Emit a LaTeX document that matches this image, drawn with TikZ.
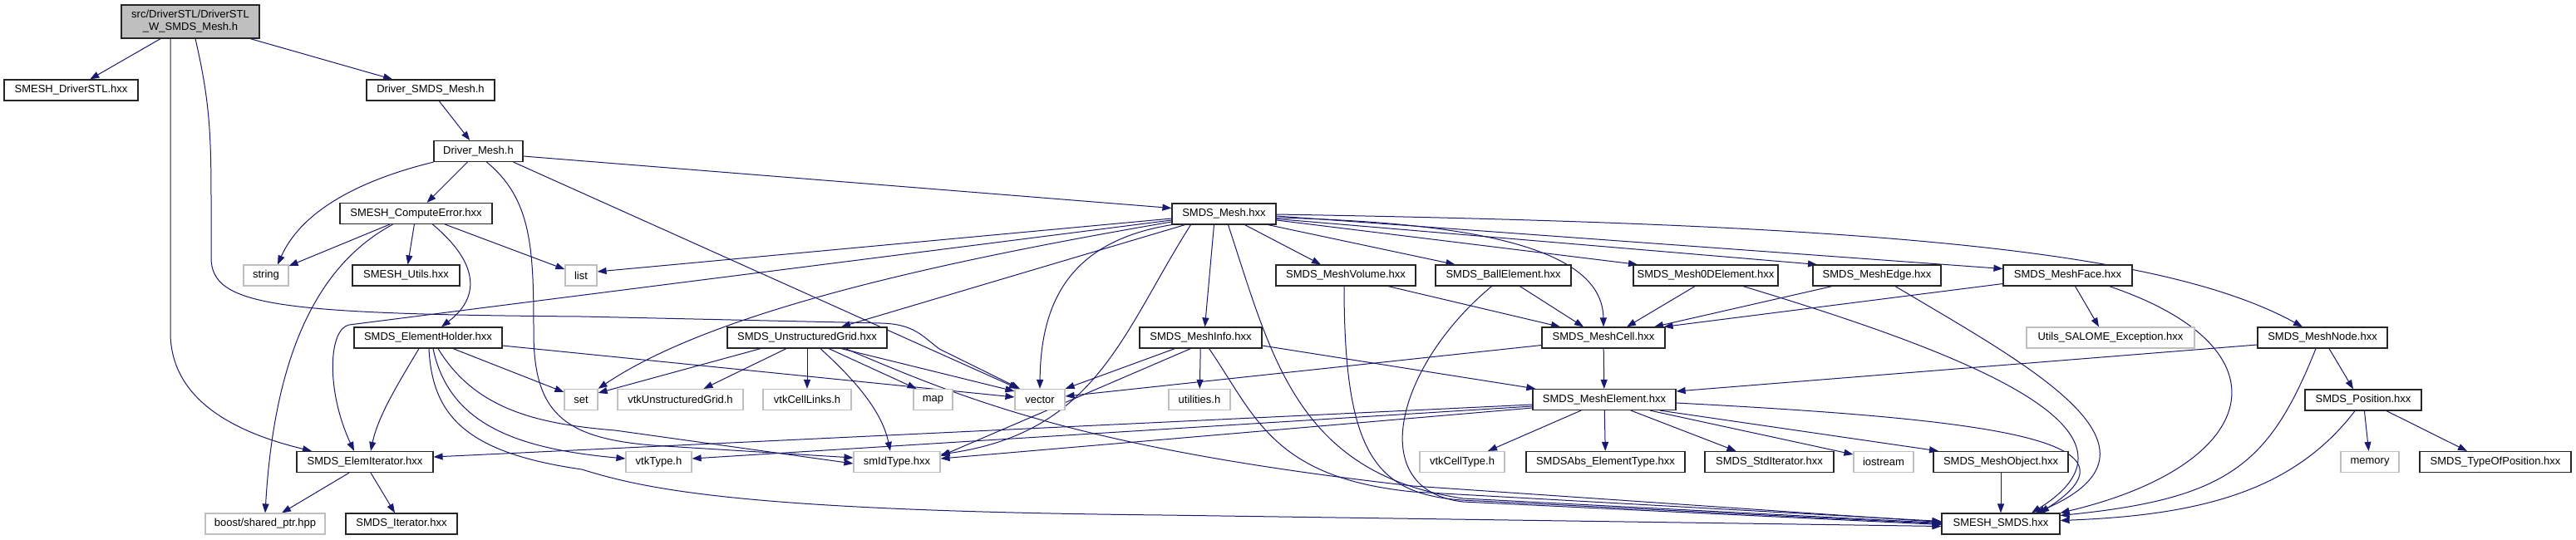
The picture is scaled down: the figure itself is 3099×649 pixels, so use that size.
\documentclass[tikz,border=0pt]{standalone}
\usepackage{fontspec}
\setmainfont{Liberation Sans}
\usepackage{tikz}
\usetikzlibrary{arrows.meta, backgrounds}

\definecolor{edgeblue}{RGB}{25,25,112}
\definecolor{grey75}{RGB}{191,191,191}

\begin{document}
\begin{tikzpicture}[
        x=1pt, y=-1pt,
        file/.style={rectangle, draw=black!85, line width=1.2pt, fill=white, inner sep=0pt, minimum height=25pt, font=\fontsize{13}{15}\selectfont},
        ext/.style={file, draw=grey75},
        root/.style={file, fill=grey75, align=center, minimum height=40pt},
        arrow/.style={-{Triangle[length=11pt,width=8pt]}, line width=1pt, color=edgeblue}
    ]
    \useasboundingbox (0,0) rectangle (3099,649);

    % Nodes
    \node[root, minimum width=166pt] (main) at (229,26) {src/DriverSTL/DriverSTL\\\_W\_SMDS\_Mesh.h};
    \node[file, minimum width=161pt] (drvstl) at (85.5,108.5) {SMESH\_DriverSTL.hxx};
    \node[file, minimum width=154pt] (drvsmds) at (518,108.5) {Driver\_SMDS\_Mesh.h};
    \node[file, minimum width=107pt] (drvmesh) at (575.5,182) {Driver\_Mesh.h};
    \node[file, minimum width=183pt] (comperr) at (500.5,257) {SMESH\_ComputeError.hxx};
    \node[file, minimum width=125pt] (smdsmesh) at (1472.5,257.5) {SMDS\_Mesh.hxx};
    \node[ext, minimum width=54pt] (string) at (320,331.5) {string};
    \node[file, minimum width=129pt] (utils) at (488.5,331.5) {SMESH\_Utils.hxx};
    \node[ext, minimum width=38pt] (list) at (699,331.5) {list};
    \node[file, minimum width=168pt] (meshvol) at (1619,331.5) {SMDS\_MeshVolume.hxx};
    \node[file, minimum width=163pt] (ball) at (1808.5,331.5) {SMDS\_BallElement.hxx};
    \node[file, minimum width=174pt] (mesh0d) at (2052,331.5) {SMDS\_Mesh0DElement.hxx};
    \node[file, minimum width=154pt] (medge) at (2258,331.5) {SMDS\_MeshEdge.hxx};
    \node[file, minimum width=155pt] (mface) at (2487.5,331.5) {SMDS\_MeshFace.hxx};
    \node[file, minimum width=178pt] (elemholder) at (515,406.5) {SMDS\_ElementHolder.hxx};
    \node[file, minimum width=192pt] (ugrid) at (971,406.5) {SMDS\_UnstructuredGrid.hxx};
    \node[file, minimum width=147pt] (minfo) at (1444.5,406.5) {SMDS\_MeshInfo.hxx};
    \node[file, minimum width=148pt] (mcell) at (1929,406.5) {SMDS\_MeshCell.hxx};
    \node[ext, minimum width=202pt] (salome) at (2539,406.5) {Utils\_SALOME\_Exception.hxx};
    \node[file, minimum width=156pt] (mnode) at (2794,406.5) {SMDS\_MeshNode.hxx};
    \node[ext, minimum width=40pt] (set) at (699,481) {set};
    \node[ext, minimum width=151pt] (vtkug) at (818.5,481) {vtkUnstructuredGrid.h};
    \node[ext, minimum width=106pt] (vtkcl) at (971,481) {vtkCellLinks.h};
    \node[ext, minimum width=47pt] (map) at (1122.5,481) {map};
    \node[ext, minimum width=60pt] (vector) at (1251,481) {vector};
    \node[ext, minimum width=74pt] (utilities) at (1443,481) {utilities.h};
    \node[file, minimum width=172pt] (melem) at (1930,481) {SMDS\_MeshElement.hxx};
    \node[file, minimum width=140pt] (position) at (2843,481.5) {SMDS\_Position.hxx};
    \node[file, minimum width=164pt] (elemiter) at (439,556) {SMDS\_ElemIterator.hxx};
    \node[ext, minimum width=79pt] (vtktype) at (792.5,556) {vtkType.h};
    \node[ext, minimum width=104pt] (smid) at (1079,556) {smIdType.hxx};
    \node[ext, minimum width=102pt] (vtkcell) at (1759,556) {vtkCellType.h};
    \node[file, minimum width=191pt] (absel) at (1931.5,556) {SMDSAbs\_ElementType.hxx};
    \node[file, minimum width=155pt] (stditer) at (2128.5,556) {SMDS\_StdIterator.hxx};
    \node[ext, minimum width=72pt] (iostream) at (2266,556) {iostream};
    \node[file, minimum width=162pt] (mobject) at (2407,556) {SMDS\_MeshObject.hxx};
    \node[ext, minimum width=70pt] (memory) at (2851,556) {memory};
    \node[file, minimum width=182pt] (typepos) at (3002,556) {SMDS\_TypeOfPosition.hxx};
    \node[ext, minimum width=144pt] (boost) at (319,630.5) {boost/shared\_ptr.hpp};
    \node[file, minimum width=134pt] (iter) at (483,630.5) {SMDS\_Iterator.hxx};
    \node[file, minimum width=142pt] (smeshsmds) at (2407,630.5) {SMESH\_SMDS.hxx};

    \begin{scope}[on background layer]
    \fill[white] (0,0) rectangle (3099,649);

    % Connections
    \draw[arrow] (main) -- (drvstl);
    \draw[arrow] (main) -- (drvsmds);
    \draw[arrow] ([xshift=-24pt]main.south) -- (205,400) .. controls (205,480) and (280,520) .. ([xshift=-64pt]elemiter.north);
    \draw[arrow] ([xshift=6pt]main.south) .. controls (252,120) and (254,160) .. (254,240) -- (254,310) .. controls (254,368) and (330,378) .. (700,381) -- (1060,389) .. controls (1100,390) and (1110,405) .. (1130,420) -- ([xshift=-24pt]vector.north);
    \draw[arrow] (drvsmds) -- (drvmesh);

    \draw[arrow] (drvmesh.south west) .. controls (420,220) and (360,260) .. ([xshift=14pt]string.north);
    \draw[arrow] (drvmesh) -- (comperr);
    \draw[arrow] ([xshift=10pt]drvmesh.south) .. controls (640,240) and (642,300) .. (642,400) .. controls (642,500) and (680,530) .. (800,537) -- ([yshift=5pt]smid.west);
    \draw[arrow] ([xshift=-12pt]drvmesh.south east) -- ([xshift=-26pt]vector.north);
    \draw[arrow] ([yshift=-6pt]drvmesh.east) -- ([yshift=7pt]smdsmesh.west);

    \draw[arrow] (comperr) -- (string);
    \draw[arrow] (comperr) -- (utils);
    \draw[arrow] (comperr) -- (list);
    \draw[arrow] ([xshift=20pt]comperr.south) .. controls (580,320) and (575,360) .. ([xshift=16pt]elemholder.north);
    \draw[arrow] ([xshift=-28pt]comperr.south) .. controls (380,320) and (330,430) .. (boost.north);

    \draw[arrow] ([xshift=-11pt]elemholder.south) .. controls (480,460) and (455,500) .. ([xshift=7pt]elemiter.north);
    \draw[arrow] ([xshift=30pt]elemholder.south) -- ([yshift=9pt]set.west);
    \draw[arrow] ([yshift=-9.5pt]elemholder.east) -- ([yshift=3pt]vector.west);
    \draw[arrow] ([xshift=6pt]elemholder.south) .. controls (540,510) and (620,540) .. ([yshift=4pt]vtktype.west);
    \draw[arrow] ([xshift=12pt]elemholder.south) .. controls (570,490) and (640,510) .. (740,518) -- ([yshift=-2pt]smid.west);
    \draw[arrow] ([xshift=1pt]elemholder.south) .. controls (520,500) and (560,545) .. (700,565) .. controls (780,590) and (900,615) .. (1400,620) -- ([yshift=-3pt]smeshsmds.west);

    \draw[arrow] ([yshift=-5.5pt]smdsmesh.west) -- ([yshift=4.5pt]list.east);
    \draw[arrow] ([yshift=-7.5pt]smdsmesh.west) -- (420,391) .. controls (395,396) and (392,470) .. ([xshift=-13pt]elemiter.north);
    \draw[arrow] ([yshift=-9.5pt]smdsmesh.west) .. controls (1100,320) and (850,380) .. (set.north east);
    \draw[arrow] ([xshift=-47pt]smdsmesh.south) -- ([xshift=41pt]ugrid.north);
    \draw[arrow] (smdsmesh.south west) .. controls (1290,290) and (1252,360) .. (vector.north);
    \draw[arrow] ([xshift=-12pt]smdsmesh.south) -- ([xshift=5pt]minfo.north);
    \draw[arrow] ([xshift=-40pt]smdsmesh.south) .. controls (1350,400) and (1320,520) .. ([yshift=9pt]smid.east);
    \draw[arrow] ([xshift=5pt]smdsmesh.south) .. controls (1530,430) and (1560,570) .. (1760,600) -- ([yshift=1pt]smeshsmds.west);
    \draw[arrow] ([xshift=25pt]smdsmesh.south) -- ([xshift=-30pt]meshvol.north);
    \draw[arrow] ([xshift=53pt]smdsmesh.south) -- ([xshift=-58pt]ball.north);
    \draw[arrow] ([yshift=-7.5pt]smdsmesh.east) -- ([xshift=-82pt]mesh0d.north);
    \draw[arrow] ([yshift=-6pt]smdsmesh.east) -- ([xshift=-72pt]medge.north);
    \draw[arrow] ([yshift=-2.5pt]smdsmesh.east) -- ([yshift=8pt]mface.west);
    \draw[arrow] ([yshift=-4.5pt]smdsmesh.east) .. controls (1780,268) and (1928,300) .. (mcell.north);
    \draw[arrow] ([yshift=-0.5pt]smdsmesh.east) .. controls (2250,270) and (2600,300) .. ([xshift=-24pt]mnode.north);

    \draw[arrow] ([xshift=-56pt]ugrid.south) -- ([yshift=8pt]set.east);
    \draw[arrow] ([xshift=-25pt]ugrid.south) -- ([xshift=28pt]vtkug.north);
    \draw[arrow] (ugrid) -- (vtkcl);
    \draw[arrow] ([xshift=26pt]ugrid.south) -- ([xshift=-20pt]map.north);
    \draw[arrow] ([xshift=16pt]ugrid.south) .. controls (1020,450) and (1060,490) .. ([xshift=-8pt]smid.north);
    \draw[arrow] ([xshift=41pt]ugrid.south) -- ([yshift=-3pt]vector.north west);
    \draw[arrow] ([xshift=46pt]ugrid.south) .. controls (1160,480) and (1300,540) .. (1700,585) -- ([yshift=2pt]smeshsmds.west);

    \draw[arrow] ([xshift=-31pt]minfo.south) -- (vector.north east);
    \draw[arrow] ([xshift=-12pt]minfo.south) -- ([yshift=7pt]smid.east);
    \draw[arrow] (minfo) -- (utilities);
    \draw[arrow] ([yshift=-9.5pt]minfo.east) -- ([xshift=4pt]melem.north west);
    \draw[arrow] ([xshift=10pt]minfo.south) .. controls (1510,500) and (1530,575) .. (1700,592) -- ([yshift=3pt]smeshsmds.west);

    \draw[arrow] ([xshift=51pt]meshvol.south) -- ([xshift=-52pt]mcell.north);
    \draw[arrow] ([xshift=-2pt]meshvol.south) .. controls (1617,560) and (1660,600) .. (1780,603) -- (smeshsmds.west);
    \draw[arrow] ([xshift=20pt]ball.south) -- ([xshift=-24pt]mcell.north);
    \draw[arrow] ([xshift=-14pt]ball.south) .. controls (1680,440) and (1640,590) .. (1760,604) -- ([yshift=-1pt]smeshsmds.west);
    \draw[arrow] ([xshift=-13pt]mesh0d.south) -- ([xshift=28pt]mcell.north);
    \draw[arrow] ([xshift=45pt]mesh0d.south) .. controls (2380,430) and (2600,520) .. ([xshift=37pt]smeshsmds.north);
    \draw[arrow] ([xshift=-54pt]medge.south) -- ([xshift=61pt]mcell.north);
    \draw[arrow] ([xshift=22pt]medge.south) .. controls (2440,440) and (2630,540) .. ([xshift=42pt]smeshsmds.north);
    \draw[arrow] ([yshift=-10pt]mface.west) -- ([xshift=-2pt]mcell.north east);
    \draw[arrow] ([xshift=9pt]mface.south) -- ([xshift=-14pt]salome.north);
    \draw[arrow] ([xshift=50pt]mface.south) .. controls (2760,420) and (2720,560) .. (smeshsmds.north east);

    \draw[arrow] ([yshift=-8.5pt]mnode.west) -- ([yshift=10pt]melem.east);
    \draw[arrow] ([xshift=8pt]mnode.south) -- ([xshift=-12pt]position.north);
    \draw[arrow] ([xshift=-8pt]mnode.south) .. controls (2730,560) and (2680,600) .. ([yshift=10pt]smeshsmds.east);
    \draw[arrow] (position) -- (memory);
    \draw[arrow] ([xshift=28pt]position.south) -- ([xshift=-34pt]typepos.north);
    \draw[arrow] ([xshift=-10pt]position.south) .. controls (2760,590) and (2650,620) .. ([yshift=4pt]smeshsmds.east);

    \draw[arrow] (mcell) -- (melem);
    \draw[arrow] ([yshift=-9pt]mcell.west) -- ([yshift=4pt]vector.east);

    \draw[arrow] ([xshift=-28pt]melem.south) -- ([xshift=31pt]vtkcell.north);
    \draw[arrow] (melem) -- (absel);
    \draw[arrow] ([xshift=32pt]melem.south) -- ([xshift=-40pt]stditer.north);
    \draw[arrow] ([xshift=55pt]melem.south) -- ([yshift=9pt]iostream.west);
    \draw[arrow] ([xshift=67pt]melem.south) -- ([xshift=-75pt]mobject.north);
    \draw[arrow] ([yshift=-4pt]melem.east) .. controls (2400,505) and (2590,530) .. ([xshift=47pt]smeshsmds.north);
    \draw[arrow] ([yshift=-6pt]melem.west) -- ([yshift=6pt]elemiter.east);
    \draw[arrow] ([yshift=-8pt]melem.west) -- ([yshift=4pt]vtktype.east);
    \draw[arrow] ([yshift=-10pt]melem.west) -- ([yshift=4pt]smid.east);

    \draw[arrow] ([xshift=-19pt]elemiter.south) -- ([xshift=20pt]boost.north);
    \draw[arrow] ([xshift=7pt]elemiter.south) -- ([xshift=-8pt]iter.north);
    \draw[arrow] (mobject) -- (smeshsmds);
    \end{scope}

\end{tikzpicture}
\end{document}
